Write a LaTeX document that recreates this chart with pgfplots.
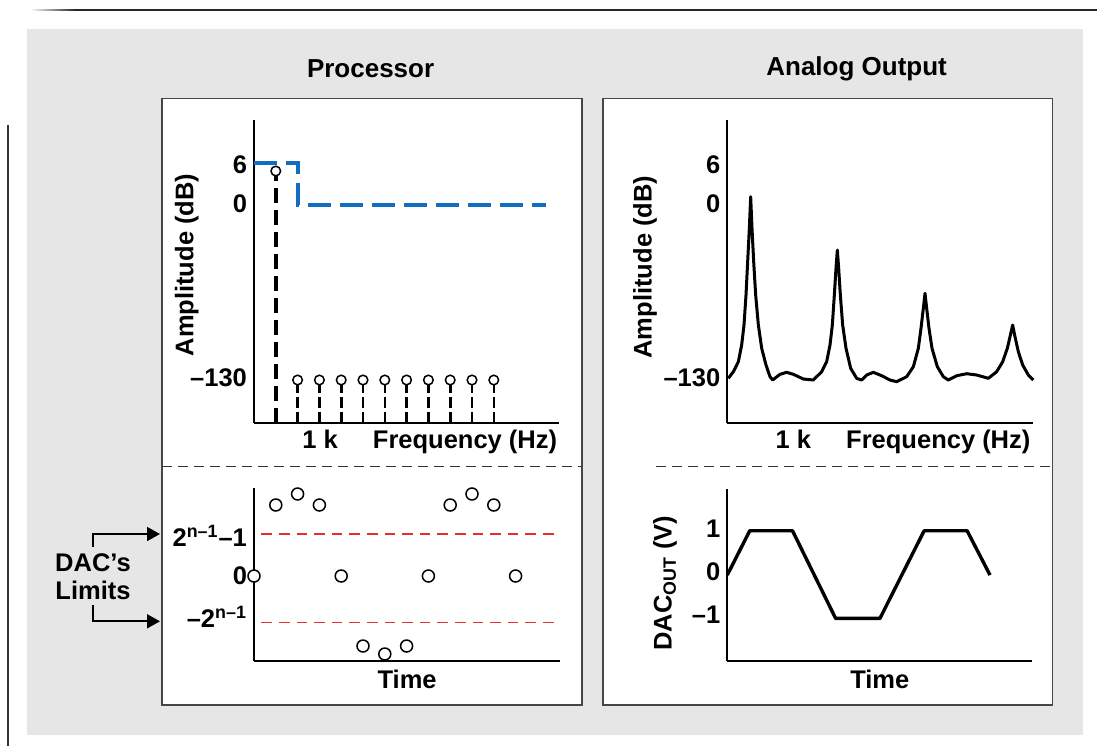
\documentclass[border=0pt]{standalone}
\usepackage{fontspec}
\setmainfont{Liberation Sans}
\usepackage{pgfplots}
\pgfplotsset{compat=1.18}
\usetikzlibrary{arrows.meta}

\definecolor{panelgray}{RGB}{230,230,230}
\definecolor{boxline}{RGB}{70,70,70}
\definecolor{specblue}{RGB}{16,110,192}
\definecolor{limitred}{RGB}{228,48,48}
\newcommand{\lbl}{\bfseries\fontsize{12.75}{13.85}\selectfont}
\newcommand{\ttl}{\bfseries\fontsize{13}{15}\selectfont}

\pgfplotsset{
  panel/.style={
    anchor=south west, clip=false,
    axis x line*=bottom, axis y line*=left,
    axis line style={-, line width=1pt, black},
    major tick length=0pt,
    ticklabel style={font=\lbl},
    label style={font=\lbl},
    x=10.9pt,
  },
  ring/.style={only marks, mark=*, mark options={solid, fill=white, draw=black, line width=0.75pt}},
}

% bottom left: samples of the processor (display units, 0 = midscale)
\pgfplotstableread{
n  v
0  0
1  71
2  82
3  71
4  0
5  -70
6  -78
7  -70
8  0
9  71
10 82
11 71
12 0
}\samples

\begin{document}
\begin{tikzpicture}[x=0.5pt,y=-0.5pt]
\useasboundingbox (0,0) rectangle (1097,746);
\fill[white] (0,0) rectangle (1097,746);
\fill[panelgray] (26.5,29) rectangle (1082.5,735);
\shade[left color=white, right color=black!85] (30,9.25) rectangle (75,10.75);
\draw[black!85, line width=0.75pt] (75,10) -- (1097,10);
\draw[black!80, line width=0.6pt] (8,125) -- (8,746);

\draw[boxline, fill=white, line width=0.8pt] (162.2,98.3) rectangle (581.8,705);
\draw[boxline, fill=white, line width=0.8pt] (602.8,98.3) rectangle (1052.4,705);
\draw[black!80, line width=0.75pt, dash pattern=on 5pt off 3pt] (162.2,466.7) -- (581.8,466.7);
\draw[black!80, line width=0.75pt, dash pattern=on 5pt off 3pt] (656,466.7) -- (1052.4,466.7);

\node[font=\ttl] at (370.6,69) {Processor};
\node[font=\ttl] at (856.6,69) {Analog Output};

% DAC's limits
\draw[line width=0.9pt, -{Triangle[length=6.5pt,width=7pt]}] (93.3,546.7) -- (93.3,534) -- (160,534);
\draw[line width=0.9pt, -{Triangle[length=6.5pt,width=7pt]}] (93.3,605) -- (93.3,621.3) -- (160,621.3);
\node[font=\lbl, align=center] at (93,577) {DAC’s\\Limits};

% ---- Processor spectrum
\begin{axis}[panel, at={(127pt,-211.35pt)}, y=0.5pt,
  xmin=0, xmax=14, ymin=0, ymax=302.7,
  xtick={3.03,9.68}, xticklabels={1 k, Frequency (Hz)},
  ytick={45,219.4,258.2}, yticklabels={–130,0,6},
  ylabel={Amplitude (dB)},
  ylabel style={at={(axis description cs:-0.22,0.521)}, anchor=center},
]
\addplot[specblue, line width=2pt, dash pattern=on 11.5pt off 4.5pt]
  coordinates {(0,259.4) (2.03,259.4) (2.03,217.7) (13.4,217.7)};
\addplot[ycomb, black, line width=1.8pt, dash pattern=on 7.5pt off 3.5pt]
  coordinates {(1,251.7)};
\addplot[ycomb, black, line width=1.3pt, dash pattern=on 5.5pt off 2pt]
  coordinates {(2,42.7)(3,42.7)(4,42.7)(5,42.7)(6,42.7)(7,42.7)(8,42.7)(9,42.7)(10,42.7)(11,42.7)};
\addplot[ring, mark size=2.4pt]
  coordinates {(1,251.7)(2,42.7)(3,42.7)(4,42.7)(5,42.7)(6,42.7)(7,42.7)(8,42.7)(9,42.7)(10,42.7)(11,42.7)};
\end{axis}

% ---- Processor samples
\begin{axis}[panel, at={(127pt,-330.65pt)}, y=0.5pt,
  xmin=0, xmax=14.05, ymin=-85.3, ymax=87.7,
  xtick=\empty, ytick={-41,0,40},
  yticklabels={{–2\textsuperscript{n–1}},0,{2\textsuperscript{n–1}–1}},
  xlabel={Time},
  xlabel style={at={(axis description cs:0.5,-0.104)}, anchor=center},
]
\addplot[limitred, line width=0.8pt, dash pattern=on 5.3pt off 3.5pt] coordinates {(0.34,42)(13.89,42)};
\addplot[limitred, line width=0.8pt, dash pattern=on 5.3pt off 3.5pt] coordinates {(0.34,-46.3)(13.89,-46.3)};
\addplot[ring, mark size=3pt] table[x=n, y=v] {\samples};
\end{axis}

% ---- Analog output spectrum
\begin{axis}[panel, at={(363.65pt,-211.35pt)}, y=0.5pt,
  xmin=0, xmax=14.04, ymin=0, ymax=302.7,
  xtick={3.03,9.68}, xticklabels={1 k, Frequency (Hz)},
  ytick={45,219.4,257.7}, yticklabels={–130,0,6},
  ylabel={Amplitude (dB)},
  ylabel style={at={(axis description cs:-0.269,0.514)}, anchor=center},
]
\addplot[black, line width=1.5pt, line join=round] coordinates {
(0.047,44.4)(0.277,51.0)(0.506,61.0)(0.659,77.7)(0.766,97.7)(0.858,127.7)(0.934,161.0)(1.011,194.4)(1.072,226.0)
(1.133,194.4)(1.210,161.0)(1.301,127.7)(1.424,97.7)(1.577,74.4)(1.775,57.7)(1.959,46.0)(2.081,42.7)
(2.417,48.4)(2.723,50.4)(3.029,48.4)(3.488,43.7)(3.946,42.7)
(4.329,51.0)(4.558,61.0)(4.711,77.7)(4.818,97.7)(4.910,127.7)(4.986,154.4)(5.047,172.7)
(5.109,154.4)(5.185,127.7)(5.292,97.7)(5.445,74.4)(5.659,54.4)(5.934,44.4)(6.164,42.7)
(6.393,47.7)(6.699,50.4)(7.081,47.0)(7.463,42.7)(7.769,41.0)
(8.228,46.0)(8.534,56.0)(8.763,74.4)(8.885,94.4)(8.992,114.4)(9.069,129.4)
(9.145,114.4)(9.252,94.4)(9.390,74.4)(9.634,56.0)(9.910,46.0)(10.139,42.7)
(10.522,47.0)(10.980,49.0)(11.439,47.7)(11.974,44.4)
(12.356,51.0)(12.632,61.0)(12.845,74.4)(12.968,86.0)(13.090,97.7)
(13.197,86.0)(13.350,71.0)(13.549,57.7)(13.809,47.7)(14.038,42.7)};
\end{axis}

% ---- DAC output
\begin{axis}[panel, at={(363.65pt,-330.65pt)}, y=21.5pt,
  xmin=0, xmax=13.99, ymin=-2.077, ymax=1.923,
  xtick=\empty, ytick={-1,0,1}, yticklabels={–1,0,1},
  xlabel={Time},
  xlabel style={at={(axis description cs:0.5,-0.104)}, anchor=center},
  ylabel={DAC\textsubscript{OUT} (V)},
  ylabel style={at={(axis description cs:-0.204,0.455)}, anchor=center},
]
\addplot[black, line width=1.7pt, line join=round]
  coordinates {(0,-0.07)(1.03,0.96)(2.99,0.96)(4.97,-1.08)(7,-1.08)(9.03,0.96)(11,0.96)(12.05,-0.07)};
\end{axis}
\end{tikzpicture}
\end{document}
